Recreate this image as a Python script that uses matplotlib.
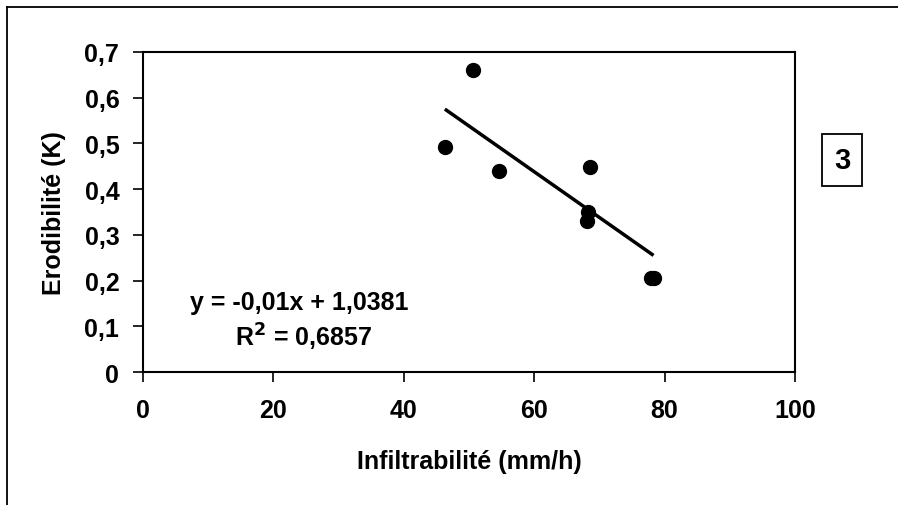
import matplotlib
matplotlib.use('Agg')
import matplotlib.pyplot as plt
from matplotlib.lines import Line2D

# values
infiltrabilite = [50.6, 46.3, 54.6, 68.5, 68.2, 68.1, 77.9, 78.3]
erodibilite = [0.661, 0.492, 0.439, 0.449, 0.349, 0.331, 0.205, 0.205]
pente = -0.01
ordonnee = 1.0381
r2 = 0.6857
x_ticks = [0, 20, 40, 60, 80, 100]
y_ticks = [0, 0.1, 0.2, 0.3, 0.4, 0.5, 0.6, 0.7]

plt.rcParams['font.family'] = ['Liberation Sans', 'DejaVu Sans']
plt.rcParams['font.weight'] = 'bold'
fs = 18

fig = plt.figure(figsize=(8.98, 5.06), dpi=100)
ax = fig.add_axes([0.1592, 0.2628, 0.8853 - 0.1592, 0.8953 - 0.2628])

ax.scatter(infiltrabilite, erodibilite, s=100, color='black', zorder=3)

x0, x1 = min(infiltrabilite), max(infiltrabilite)
ax.plot([x0, x1], [pente * x0 + ordonnee, pente * x1 + ordonnee],
        color='black', lw=2.5, solid_capstyle='butt')

ax.set_xlim(0, 100)
ax.set_ylim(0, 0.7)
ax.set_xticks(x_ticks)
ax.set_yticks(y_ticks)
ax.set_yticklabels([('%.1f' % v).replace('.', ',') if v else '0' for v in y_ticks])
ax.tick_params(direction='out', length=7, width=1.2, labelsize=fs, color='black')
ax.tick_params(axis='y', pad=10)
ax.tick_params(axis='x', pad=12)
for s in ax.spines.values():
    s.set_linewidth(1.5)
    s.set_color('black')

ax.set_xlabel('Infiltrabilité (mm/h)', fontsize=fs, fontweight='bold', labelpad=19)
ax.set_ylabel('Erodibilité (K)', fontsize=fs, fontweight='bold', labelpad=13)

eq = 'y = %sx + %s' % (('%.2f' % pente).replace('.', ','), ('%.4f' % ordonnee).replace('.', ','))
fig.text(190 / 898, 1 - 303 / 506, eq, fontsize=fs, fontweight='bold', ha='left', va='center')
fig.text(235 / 898, 1 - 337 / 506, 'R$^2$ = ' + ('%.4f' % r2).replace('.', ','),
         fontsize=fs, fontweight='bold', ha='left', va='center')

fig.text(842 / 898, 1 - 161 / 506, '3', fontsize=21, fontweight='bold', ha='center', va='center',
         bbox=dict(boxstyle='square,pad=0.42', fc='white', ec='black', lw=1.3))

# cadre extérieur (haut et gauche)
fig.add_artist(Line2D([7 / 898, 1], [1 - 8 / 506, 1 - 8 / 506], transform=fig.transFigure, color='black', lw=1.3))
fig.add_artist(Line2D([7 / 898, 7 / 898], [0, 1 - 8 / 506], transform=fig.transFigure, color='black', lw=1.3))

fig.savefig('out.png', dpi=100)
